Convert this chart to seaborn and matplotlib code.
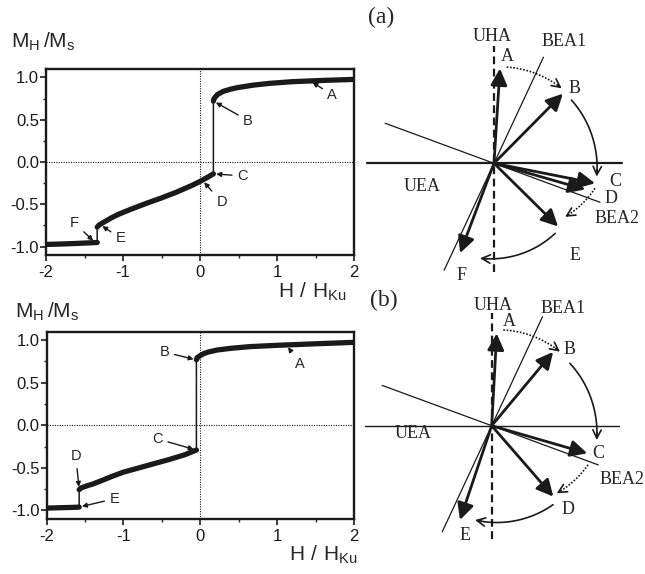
import numpy as np
import matplotlib
matplotlib.use('Agg')
import matplotlib.pyplot as plt
import seaborn as sns
from matplotlib.ticker import AutoMinorLocator

sns.set_theme(style='ticks')
plt.rcParams['font.family'] = ['Liberation Sans', 'DejaVu Sans']
plt.rcParams['mathtext.default'] = 'regular'
plt.rcParams['axes.unicode_minus'] = False

# ---- (a) hysteresis branches: H/H_Ku , M_H/M_s
a_low_h = [-2.0, -1.8, -1.6, -1.45, -1.335]
a_low_m = [-0.975, -0.97, -0.963, -0.957, -0.952]
a_mid_h = [-1.335, -1.31, -1.25, -1.15, -1.05, -0.9, -0.7, -0.5, -0.3, -0.1, 0.0, 0.1, 0.174]
a_mid_m = [-0.77, -0.745, -0.712, -0.66, -0.615, -0.56, -0.49, -0.425, -0.355, -0.275, -0.23, -0.18, -0.14]
a_up_h = [0.174, 0.18, 0.2, 0.23, 0.3, 0.4, 0.5, 0.7, 0.9, 1.2, 1.6, 2.0]
a_up_m = [0.72, 0.745, 0.77, 0.80, 0.835, 0.862, 0.882, 0.91, 0.93, 0.95, 0.965, 0.977]

# ---- (b) hysteresis branches
b_low_h = [-2.0, -1.8, -1.6, -1.575]
b_low_m = [-0.972, -0.967, -0.962, -0.96]
b_mid_h = [-1.575, -1.55, -1.48, -1.4, -1.3, -1.15, -1.0, -0.8, -0.6, -0.4, -0.2, -0.05]
b_mid_m = [-0.755, -0.735, -0.712, -0.69, -0.655, -0.6, -0.55, -0.5, -0.45, -0.4, -0.345, -0.29]
b_up_h = [-0.05, -0.04, 0.0, 0.04, 0.1, 0.22, 0.4, 0.65, 1.0, 1.5, 2.0]
b_up_m = [0.77, 0.795, 0.82, 0.84, 0.86, 0.885, 0.905, 0.925, 0.94, 0.958, 0.975]

# point labels: (label, branch, H at arrow tip)
a_notes = [('A', 'up', 1.43), ('B', 'up', 0.174), ('C', 'mid', 0.174),
           ('D', 'mid', 0.03), ('E', 'mid', -1.30), ('F', 'low', -1.36)]
b_notes = [('A', 'up', 1.12), ('B', 'up', -0.05), ('C', 'mid', -0.05),
           ('D', 'mid', -1.575), ('E', 'low', -1.575)]

# ---- magnetisation vectors (angle in deg, length)
a_vec_names = ['A', 'B', 'C', 'D', 'E', 'F']
a_vec_ang = [86.4, 45.3, -11.2, -16.0, -44.6, -110.7]
a_vec_len = [95, 98, 103, 95, 90, 96]
b_vec_names = ['A', 'B', 'C', 'D', 'E']
b_vec_ang = [86.9, 50.2, -16.1, -49.0, -108.6]
b_vec_len = [92.5, 96, 99.5, 94, 99.5]

# anisotropy axes: name, angle
axis_names = ['UEA', 'UHA', 'BEA1', 'BEA2']
axis_ang = [0.0, 90.0, 65.0, -20.2]

W, H = 645, 574
fig = plt.figure(figsize=(W / 100, H / 100), dpi=100)


def px_axes(x0, y0, x1, y1):
    return fig.add_axes([x0 / W, 1 - y1 / H, (x1 - x0) / W, (y1 - y0) / H])


def hyst(ax, branches, notes, offsets):
    hh = np.concatenate([b[0] for b in branches.values()])
    mm = np.concatenate([b[1] for b in branches.values()])
    sns.lineplot(x=hh, y=mm, ax=ax, color='k', lw=1.1, sort=False, estimator=None)
    for h, m in branches.values():
        sns.lineplot(x=h, y=m, ax=ax, color='k', lw=3.8, sort=False, estimator=None,
                     solid_capstyle='round')
    ax.axhline(0, color='k', lw=0.8, ls=(0, (1, 1.2)), zorder=0)
    ax.axvline(0, color='k', lw=0.8, ls=(0, (1, 1.2)), zorder=0)
    for (lab, br, h), off in zip(notes, offsets):
        bh, bm = branches[br]
        m = np.interp(h, bh, bm)
        ax.annotate(lab, xy=(h, m), xytext=off, textcoords='offset points',
                    ha='center', va='center', fontsize=10.5,
                    arrowprops=dict(arrowstyle='-|>', color='k', lw=1.0,
                                    mutation_scale=7, shrinkA=1.5, shrinkB=2))
    ax.set_xlim(-2, 2)
    ax.set_ylim(-1.1, 1.1)
    ax.set_xticks([-2, -1, 0, 1, 2])
    ax.set_yticks([-1.0, -0.5, 0.0, 0.5, 1.0])
    ax.set_yticklabels(['-1.0', '-0.5', '0.0', '0.5', '1.0'])
    ax.set_xticklabels(['-2', '-1', '0', '1', '2'])
    ax.xaxis.set_minor_locator(AutoMinorLocator(2))
    ax.yaxis.set_minor_locator(AutoMinorLocator(2))
    ax.tick_params(which='major', length=4, width=1.2, direction='out', labelsize=12, colors='k')
    ax.tick_params(which='minor', length=2.5, width=1.0, direction='out')
    ax.tick_params(axis='y', pad=1)
    ax.tick_params(axis='x', pad=3)
    for s in ax.spines.values():
        s.set_linewidth(1.7)
        s.set_color('k')
    ax.set_xlabel('')
    ax.set_ylabel('')


ax1 = px_axes(46, 69, 354, 255)
hyst(ax1, {'low': (a_low_h, a_low_m), 'mid': (a_mid_h, a_mid_m), 'up': (a_up_h, a_up_m)},
     a_notes, [(16, -10), (25, -14), (21, -1.5), (14, -16), (15, -10), (-15, 14)])
ax2 = px_axes(46.5, 331.7, 354, 519)
hyst(ax2, {'low': (b_low_h, b_low_m), 'mid': (b_mid_h, b_mid_m), 'up': (b_up_h, b_up_m)},
     b_notes, [(10, -13.5), (-23, 5.5), (-28, 8), (-2.4, 24), (25.5, 6)])

xlab = '$H\\,\\,/\\,\\,H_{Ku}$'
fig.text(11 / W, 1 - 48 / H, '$M_H\\,/M_s$', fontsize=15, va='baseline', ha='left')
fig.text(15 / W, 1 - 318 / H, '$M_H\\,/M_s$', fontsize=15, va='baseline', ha='left')
fig.text(278 / W, 1 - 298 / H, xlab, fontsize=15, va='baseline', ha='left')
fig.text(289 / W, 1 - 561 / H, xlab, fontsize=15, va='baseline', ha='left')


def pol(ang, r):
    t = np.deg2rad(ang)
    return r * np.cos(t), r * np.sin(t)


def diagram(ax, names, angs, lens, ax_ext, uea_lw, arcs, labels, tag, tag_pos):
    ax.set_axis_off()
    for nm, a, (r0, r1) in zip(axis_names, axis_ang, ax_ext):
        x0, y0 = pol(a, -r0)
        x1, y1 = pol(a, r1)
        if nm == 'UHA':
            ax.plot([x0, x1], [y0, y1], color='k', lw=1.6, ls=(0, (3.5, 2)))
        elif nm == 'UEA':
            ax.plot([x0, x1], [y0, y1], color='k', lw=uea_lw)
        else:
            ax.plot([x0, x1], [y0, y1], color='k', lw=0.9)
    for nm, a, r in zip(names, angs, lens):
        ax.annotate('', xy=pol(a, r), xytext=(0, 0),
                    arrowprops=dict(arrowstyle='-|>,head_length=0.5,head_width=0.25', color='k',
                                    lw=2.0, mutation_scale=20, shrinkA=0, shrinkB=0))
    for a0, r0, a1, r1, ls in arcs:
        t = np.linspace(a0, a1, 60)
        r = np.linspace(r0, r1, 60)
        x, y = pol(t, r)
        ax.plot(x[:-3], y[:-3], color='k', lw=1.2, ls=ls)
        ax.annotate('', xy=(x[-1], y[-1]), xytext=(x[-6], y[-6]),
                    arrowprops=dict(arrowstyle='->', color='k', lw=1.2,
                                    mutation_scale=15, shrinkA=0, shrinkB=0))
    for txt, (x, y) in labels:
        ax.text(x, y, txt, fontsize=13, family=['Liberation Serif', 'DejaVu Serif'],
                ha='center', va='center')
    ax.text(tag_pos[0], tag_pos[1], tag, fontsize=17, family=['Liberation Serif', 'DejaVu Serif'],
            ha='center', va='center')


ax3 = px_axes(355, 0, 645, 287)
ax3.set_xlim(355 - 494, 645 - 494)
ax3.set_ylim(163.3 - 287, 163.3)
diagram(ax3, a_vec_names, a_vec_ang, a_vec_len,
        [(127, 128), (109, 117), (118, 117), (116, 113)], 1.6,
        [(82.5, 97, 47.9, 101, (0, (1, 1))), (39.2, 100, -7.4, 103.6, '-'),
         (-13.9, 104, -37.0, 89, (0, (1, 1))), (-48.9, 93, -98.4, 96, '-')],
        [('UHA', (-2.3, 126.6)), ('BEA1', (70, 121.6)), ('A', (13.7, 106.6)),
         ('B', (81, 75)), ('C', (121, -18.4)), ('D', (117, -35)),
         ('BEA2', (123.5, -55)), ('E', (81, -91.7)), ('F', (-32.3, -111.7)),
         ('UEA', (-72.3, -23.4))],
        '(a)', (-113, 146))

ax4 = px_axes(355, 287, 645, 574)
ax4.set_xlim(355 - 491.7, 645 - 491.7)
ax4.set_ylim(425.7 - 574, 425.7 - 287)
diagram(ax4, b_vec_names, b_vec_ang, b_vec_len,
        [(126.7, 127.6), (113.6, 112.4), (117.2, 120.3), (116.7, 113.6)], 1.0,
        [(83.1, 96.4, 47.3, 100.7, (0, (1, 1))), (38.6, 100, -7.8, 106, '-'),
         (-22.1, 104, -46.1, 93.8, (0, (1, 1))), (-52.2, 100, -100.0, 95.8, '-')],
        [('UHA', (1.6, 120.7)), ('BEA1', (71.6, 117.4)), ('A', (17.6, 104)),
         ('B', (78.3, 75.7)), ('C', (106.6, -27.6)), ('BEA2', (130, -53.6)),
         ('D', (76.6, -84.3)), ('E', (-26.7, -109.3)), ('UEA', (-78.4, -7.6))],
        '(b)', (-107.7, 125.7))

fig.savefig('out.png', dpi=100, facecolor='white')
